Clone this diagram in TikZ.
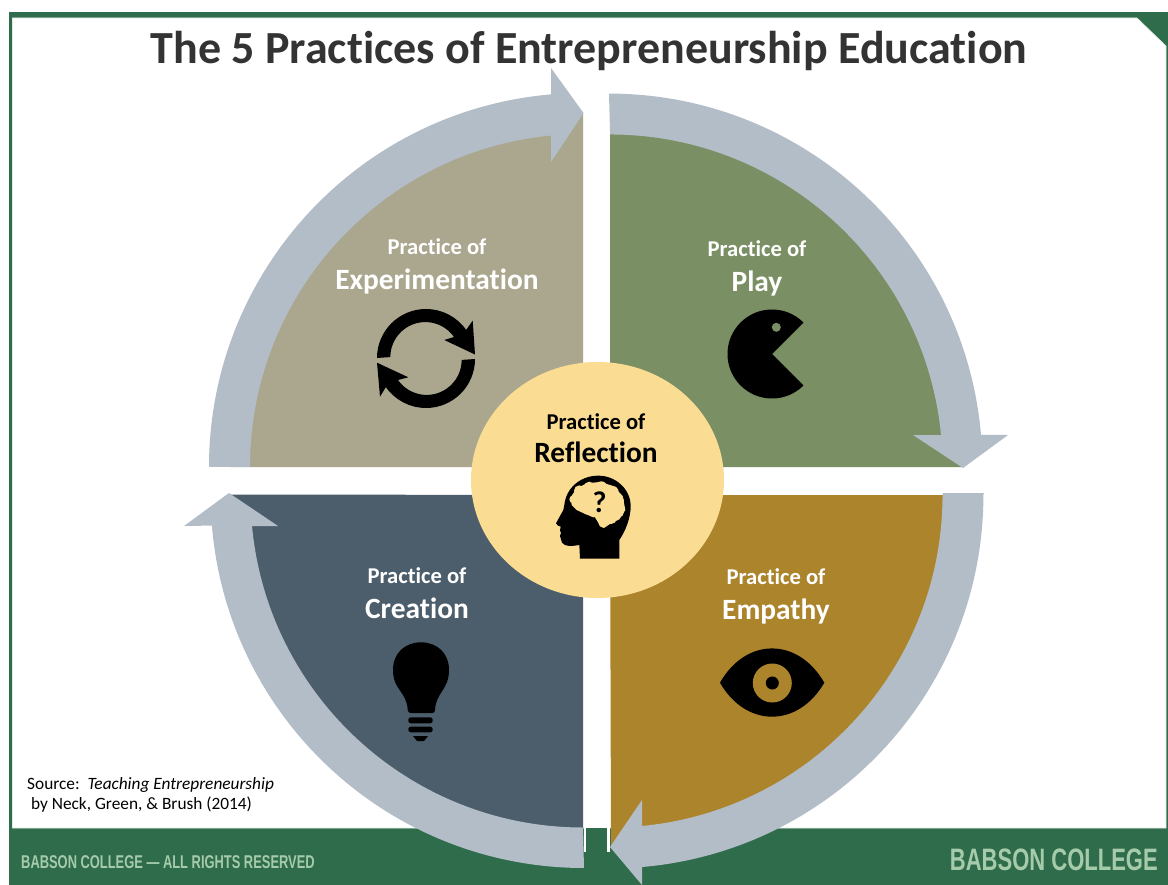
\documentclass[tikz,border=0pt]{standalone}
\usepackage{fontspec}
\setmainfont[Ligatures={TeX,NoCommon}]{Carlito}
\newfontfamily\condfont[FakeStretch=0.697]{Liberation Sans}
\newfontfamily\condbold[FakeStretch=0.71]{Liberation Sans}
\definecolor{framegreen}{HTML}{2F6C4B}
\definecolor{ringgrey}{HTML}{B3BDC7}
\definecolor{tanq}{HTML}{ABA78F}
\definecolor{greenq}{HTML}{7A8F63}
\definecolor{slateq}{HTML}{4C5E6C}
\definecolor{goldq}{HTML}{AB842C}
\definecolor{hubcol}{HTML}{FADD93}
\definecolor{bannertext}{HTML}{A5CBAB}
\definecolor{titlecol}{HTML}{333333}
\tikzset{
  ring/.style={fill=ringgrey,draw=none},
  icon/.style={fill=black,draw=none},
  lab/.style={text=white,font=\bfseries,align=center,inner sep=0pt},
  hublab/.style={text=black,font=\bfseries,align=center,inner sep=0pt},
}
\newcommand{\pracof}[2]{{\fontsize{22.6}{22.6}\selectfont Practice of}\\[#1]{\fontsize{29.4}{29.4}\selectfont #2}}
\begin{document}
\begin{tikzpicture}[x=1pt,y=-1pt]
\useasboundingbox (0,0) rectangle (1168,885);
\fill[white] (0,0) rectangle (1168,885);
% frame
\fill[framegreen] (9,12) rectangle (1168,885);
\fill[white,draw=white!85!framegreen,line width=0.6pt] (12.5,18) -- (1137,18) -- (1166,46) -- (1166,828) -- (12.5,828) -- cycle;
\fill[white] (584,826) rectangle (610,852);
\fill[framegreen] (586,828) rectangle (607,853);
% quadrants
\fill[tanq] (583,467) -- (229.5,467) arc[start angle=180,end angle=270,radius=353.5] -- cycle;
\fill[greenq] (610,467) -- (610,113.5) arc[start angle=270,end angle=360,radius=353.5] -- cycle;
\fill[goldq] (610,495) -- (963.5,495) arc[start angle=0,end angle=90,radius=352.5] -- cycle;
\fill[slateq] (583,495) -- (583,848) arc[start angle=90,end angle=180,radius=353.5] -- cycle;
% ring arrows
\path[ring] (209,467) arc[start angle=180,end angle=265.09,radius=374]
  -- (551,68) -- (583.5,113) -- (551,162) -- (551,135.5)
  arc[start angle=264.49,end angle=180,radius=333] -- cycle;
\path[ring] (609,93.6) arc[start angle=270,end angle=355.08,radius=373.4]
  -- (1008,435) -- (963,468) -- (913,435) -- (941,435)
  arc[start angle=354.48,end angle=270,radius=332.5] -- cycle;
\path[ring] (984,493) -- (983.4,495) arc[start angle=0,end angle=85.08,radius=373.4]
  -- (642,885) -- (610,847) -- (642,800) -- (642,826)
  arc[start angle=84.48,end angle=0,radius=332.5] -- (943,493) -- cycle;
\path[ring] (584,868) arc[start angle=90,end angle=175.24,radius=373.4]
  -- (184,526) -- (229,493) -- (278,526) -- (252,526)
  arc[start angle=174.65,end angle=90,radius=332.5] -- cycle;
% hub
\fill[hubcol] (597.5,480) circle[x radius=126.5,y radius=118];
% title
\node[text=titlecol,font=\bfseries\fontsize{46}{46}\selectfont,inner sep=0pt,anchor=center] (title) at (589,51) {The 5 Practices of Entrepreneurship Education};
% labels
\node[lab] (exp) at (437,266) {\pracof{13pt}{Experimentation}};
\node[lab] (play) at (757,268) {\pracof{13pt}{Play}};
\node[lab] (emp) at (776,596) {\pracof{13pt}{Empathy}};
\node[lab] (cre) at (417,593) {\pracof{13pt}{Creation}};
\node[hublab] (ref) at (596,438) {\pracof{11pt}{Reflection}};
% source
\node[anchor=north west,align=left,inner sep=0pt,text=black,font=\fontsize{17.3}{20.5}\selectfont] (src) at (27,777) {Source:\ \ \textit{Teaching Entrepreneurship}\\\ by Neck, Green, \& Brush (2014)};
% banner
\node[anchor=west,inner sep=0pt,text=bannertext,font=\condfont\bfseries\fontsize{18.5}{18.5}\selectfont] (rights) at (21,862) {BABSON COLLEGE — ALL RIGHTS RESERVED};
\node[anchor=east,inner sep=0pt,text=bannertext,font=\condbold\bfseries\fontsize{31}{31}\selectfont] (brand) at (1158,860) {BABSON COLLEGE};
% cycle icon
\path[icon] (377,358) arc[start angle=180,end angle=325,radius=49]
  -- (472.7,320.7) -- (475,354.5) -- (444.3,340) -- (454,337)
  arc[start angle=325,end angle=180,radius=35] -- cycle;
\path[icon] (475,359) arc[start angle=0,end angle=145,radius=49]
  -- (380,396.7) -- (377,362.7) -- (408.3,377.3) -- (398,380)
  arc[start angle=145,end angle=0,radius=35] -- cycle;
% pacman
\path[icon] (772,354) -- ++(-45:44.5) arc[start angle=-45,end angle=-315,radius=44.5] -- cycle;
\fill[greenq] (776.3,327.3) circle[radius=4.5];
% eye
\path[icon] (720,682.7) .. controls (746,637) and (798,637) .. (824.3,682.7) .. controls (798,728) and (746,728) .. cycle;
\fill[goldq] (772.3,683) circle[radius=19.5];
\fill[black] (772.3,683) circle[radius=6.5];
% bulb
\path[icon] (407.7,710) .. controls (407,692) and (393,690) .. (393,670) .. controls (393,653) and (405,642.3) .. (421,642.3) .. controls (437,642.3) and (449,653) .. (449,670) .. controls (449,690) and (436,692) .. (435,710) .. controls (435,712) and (434,713) .. (432,713) -- (411,713) .. controls (409,713) and (408,712) .. cycle;
\fill[black,rounded corners=2.5pt] (408.3,717.3) rectangle (432.7,723.3);
\fill[black,rounded corners=2.5pt] (408.3,726.7) rectangle (432.7,732.3);
\path[icon] (413,736) -- (428,736) -- (424,741) -- (417,741) -- cycle;
% head icon
\begin{scope}[shift={(530,460)},x=0.3333pt,y=-0.3333pt]
\path[icon] (150,296) -- (268,296) -- (268,240) .. controls (285,215) and (303,175) .. (302,135) .. controls (300,85) and (255,47) .. (205,47) .. controls (150,47) and (108,85) .. (103,135) -- (100,150) -- (78,190) .. controls (78,196) and (88,198) .. (92,200) -- (90,212) -- (93,218) -- (90,228) -- (96,248) .. controls (105,262) and (130,258) .. (148,255) -- cycle;
\fill[hubcol] (122,112) -- (140,85) -- (170,70) -- (210,66) -- (250,78) -- (278,108) -- (286,150) -- (268,178) -- (240,192) -- (222,204) -- (212,200) -- (195,172) -- (170,164) -- (140,150) -- (125,135) -- cycle;
\foreach \bx/\by/\br in {130/118/12,148/92/16,178/82/17,214/82/18,248/96/18,264/124/18,266/156/16,244/176/16,218/190/12,190/156/16,160/140/16}
  \fill[hubcol] (\bx,\by) circle[radius=\br];
\end{scope}
\node[text=black,inner sep=0pt,font=\bfseries\fontsize{30}{30}\selectfont] (qm) at (599.5,502) {?};
\end{tikzpicture}
\end{document}
